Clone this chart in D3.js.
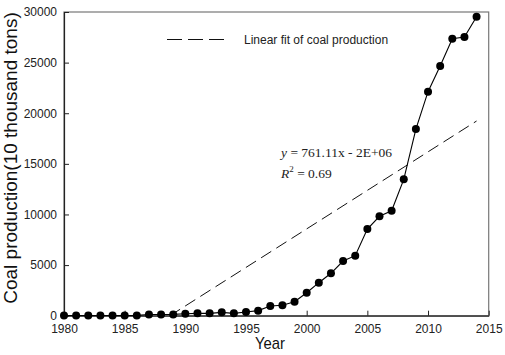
<!DOCTYPE html>
<html><head><meta charset="utf-8">
<script src="https://cdn.jsdelivr.net/npm/d3@7"></script>
<style>body{margin:0;background:#fff}svg{display:block}</style>
</head><body>
<svg id="c" width="505" height="355"></svg>
<script>
const years = [1980,1981,1982,1983,1984,1985,1986,1987,1988,1989,1990,1991,1992,1993,1994,1995,1996,1997,1998,1999,2000,2001,2002,2003,2004,2005,2006,2007,2008,2009,2010,2011,2012,2013,2014];
const production = [20,20,20,20,20,20,30,120,120,130,200,230,230,330,230,360,500,960,1030,1380,2270,3260,4190,5400,5930,8560,9820,10370,13470,18440,22130,24660,27360,27530,29540];
const fitSlope = 761.11;
const fitIntercept = -1513645;
const fitYears = [1988.73, 2014];
const xTicks = [1980,1985,1990,1995,2000,2005,2010,2015];
const yTicks = [0,5000,10000,15000,20000,25000,30000];
const legendLabel = "Linear fit of coal production";
const eqText = "761.11x - 2E+06";
const r2Text = " = 0.69";

const svg = d3.select("#c");
const L=64, R=488.7, T=12, B=315.7;
const x = d3.scaleLinear().domain([1980,2015]).range([L,R]);
const y = d3.scaleLinear().domain([0,30000]).range([B,T]);

// frame
svg.append("rect").attr("x",L).attr("y",T).attr("width",R-L).attr("height",B-T)
  .attr("fill","none").attr("stroke","#777").attr("stroke-width",1.2);

const xAxis = svg.append("g").attr("transform",`translate(0,${B})`)
  .call(d3.axisBottom(x).tickValues(xTicks).tickFormat(d3.format("d")).tickSizeInner(-5).tickSizeOuter(0).tickPadding(10));
const yAxis = svg.append("g").attr("transform",`translate(${L},0)`)
  .call(d3.axisLeft(y).tickValues(yTicks).tickFormat(d3.format("d")).tickSizeInner(-5).tickSizeOuter(0).tickPadding(7));
[xAxis,yAxis].forEach(g=>{
  g.select(".domain").attr("stroke","#222").attr("stroke-width",1.2);
  g.selectAll(".tick line").attr("stroke","#222");
  g.selectAll("text").attr("font-family","Arial, 'Liberation Sans', sans-serif").attr("font-size",12).attr("fill","#222");
});
xAxis.selectAll("text").attr("dy","0.6em");

// fit line
svg.append("line")
  .attr("x1",x(fitYears[0])).attr("y1",y(fitSlope*fitYears[0]+fitIntercept))
  .attr("x2",x(fitYears[1])).attr("y2",y(fitSlope*fitYears[1]+fitIntercept))
  .attr("stroke","#111").attr("stroke-width",1).attr("stroke-dasharray","12,6");

// data line
const pts = years.map((yr,i)=>[yr,production[i]]);
svg.append("path").datum(pts)
  .attr("d",d3.line().x(d=>x(d[0])).y(d=>y(d[1])))
  .attr("fill","none").attr("stroke","#000").attr("stroke-width",1.1);
svg.selectAll("circle.pt").data(pts).join("circle").attr("class","pt")
  .attr("cx",d=>x(d[0])).attr("cy",d=>y(d[1])).attr("r",4).attr("fill","#000");

// legend
svg.append("line").attr("x1",167).attr("x2",227).attr("y1",39.5).attr("y2",39.5)
  .attr("stroke","#111").attr("stroke-width",1).attr("stroke-dasharray","15,6");
svg.append("text").attr("x",244).attr("y",44).text(legendLabel)
  .attr("font-family","Arial, 'Liberation Sans', sans-serif").attr("font-size",12).attr("fill","#222");

// equation
const eq = svg.append("text").attr("x",281).attr("y",157)
  .attr("font-family","'Times New Roman','Liberation Serif',serif").attr("font-size",13.5).attr("fill","#222");
eq.append("tspan").attr("font-style","italic").text("y");
eq.append("tspan").text(" = " + eqText);
const r2 = svg.append("text").attr("x",281).attr("y",178)
  .attr("font-family","'Times New Roman','Liberation Serif',serif").attr("font-size",13.5).attr("fill","#222");
r2.append("tspan").attr("font-style","italic").text("R");
r2.append("tspan").attr("font-size",9).attr("dy",-6).text("2");
r2.append("tspan").attr("dy",6).text(r2Text);

// axis titles
svg.append("text").attr("transform","translate(17,158) rotate(-90)").attr("text-anchor","middle")
  .attr("font-family","Arial, 'Liberation Sans', sans-serif").attr("font-size",19).attr("fill","#111")
  .text("Coal production(10 thousand tons)");
svg.append("text").attr("x",270).attr("y",349).attr("text-anchor","middle")
  .attr("font-family","Arial, 'Liberation Sans', sans-serif").attr("font-size",17).attr("fill","#111")
  .attr("textLength",30).attr("lengthAdjust","spacingAndGlyphs")
  .text("Year");
</script>
</body></html>
